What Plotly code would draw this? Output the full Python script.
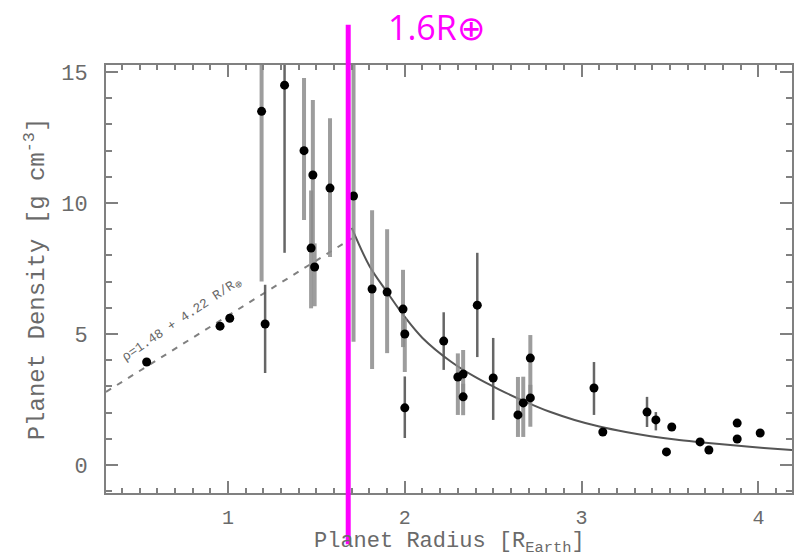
import plotly.graph_objects as go

# ---------------- data ----------------
# points with light, thick error bars
thick_x = [1.19, 1.43, 1.48, 1.47, 1.49, 1.577, 1.71, 1.815, 1.90, 1.99, 2.00, 2.30, 2.33, 2.33, 2.64, 2.67, 2.71, 2.71]
thick_y = [13.5, 12.0, 11.07, 8.28, 7.56, 10.57, 10.27, 6.72, 6.60, 5.95, 5.00, 3.36, 3.47, 2.60, 1.91, 2.37, 4.08, 2.56]
thick_ep = [3.0, 2.77, 2.86, 2.2, 0.9, 2.67, 6.0, 3.0, 2.4, 1.5, 0.6, 0.9, 0.92, 0.5, 1.45, 1.0, 0.88, 0.5]
thick_em = [6.5, 2.65, 2.9, 2.3, 1.5, 2.63, 5.57, 3.06, 2.33, 1.45, 1.45, 1.45, 1.0, 0.7, 0.84, 1.3, 1.5, 1.1]

# points with darker, thinner error bars
thin_x = [1.21, 1.32, 2.00, 2.22, 2.41, 2.50, 3.07, 3.37, 3.42]
thin_y = [5.38, 14.5, 2.18, 4.73, 6.10, 3.32, 2.94, 2.02, 1.72]
thin_ep = [1.5, 2.0, 1.2, 1.1, 2.0, 1.53, 0.99, 0.58, 0.3]
thin_em = [1.87, 6.4, 1.15, 1.1, 1.98, 1.6, 1.03, 0.57, 0.4]

# points without error bars
plain_x = [0.54, 0.955, 1.01, 3.12, 3.48, 3.51, 3.67, 3.72, 3.88, 3.88, 4.01]
plain_y = [3.93, 5.30, 5.60, 1.26, 0.50, 1.45, 0.88, 0.57, 1.60, 0.99, 1.22]

# linear relation (dashed) end points
lin_x = [0.31, 1.70]
lin_y = [2.79, 8.65]

# decreasing fit curve
fit_x = [1.70, 1.80, 1.90, 2.00, 2.10, 2.26, 2.40, 2.54, 2.68, 2.82, 2.96, 3.10, 3.25, 3.39, 3.53, 3.67, 3.81, 3.95, 4.07, 4.19]
fit_y = [9.05, 7.60, 6.60, 5.65, 4.85, 3.95, 3.35, 2.86, 2.42, 2.03, 1.72, 1.47, 1.26, 1.10, 0.97, 0.87, 0.78, 0.70, 0.63, 0.57]

x_range = [0.31, 4.19]
y_range = [-1.07, 15.27]
x_ticks = [1, 2, 3, 4]
y_ticks = [0, 5, 10, 15]
r_cut = 1.68  # position of the magenta marker line

x_title = "Planet Radius [R<sub>Earth</sub>]"
y_title = "Planet Density [g cm<sup>-3</sup>]"
fit_label = "ρ=1.48 + 4.22 R/R<sub>⊕</sub>"
cut_label = "1.6R⊕"

# ---------------- figure ----------------
GRAY = "#6a6a6a"
FONT = "Liberation Mono"

fig = go.Figure()

fig.add_trace(go.Scatter(x=lin_x, y=lin_y, mode="lines",
                         line=dict(color="#808080", width=2, dash="6px,7px"),
                         hoverinfo="skip"))
fig.add_trace(go.Scatter(x=fit_x, y=fit_y, mode="lines", line_shape="spline",
                         line=dict(color="#555555", width=2), hoverinfo="skip"))

fig.add_trace(go.Scatter(x=thick_x, y=thick_y, mode="markers",
                         marker=dict(color="black", size=9),
                         error_y=dict(type="data", symmetric=False, array=thick_ep,
                                      arrayminus=thick_em, color="rgba(140,140,140,0.85)",
                                      thickness=4, width=0)))
fig.add_trace(go.Scatter(x=thin_x, y=thin_y, mode="markers",
                         marker=dict(color="black", size=9),
                         error_y=dict(type="data", symmetric=False, array=thin_ep,
                                      arrayminus=thin_em, color="rgba(85,85,85,0.9)",
                                      thickness=2.5, width=0)))
fig.add_trace(go.Scatter(x=plain_x, y=plain_y, mode="markers",
                         marker=dict(color="black", size=9)))

axis_common = dict(
    showline=True, linecolor="#808080", linewidth=2, mirror="allticks",
    ticks="inside", ticklen=12, tickwidth=2, tickcolor="#808080",
    showgrid=False, zeroline=False, automargin=False,
)

fig.update_xaxes(range=x_range, tickvals=x_ticks, ticklabelstandoff=5,
                 tickfont=dict(family=FONT, size=20, color=GRAY),
                 minor=dict(dtick=0.1, tick0=0, ticks="inside", ticklen=5,
                            tickwidth=1.5, tickcolor="#808080", showgrid=False),
                 **axis_common)
fig.update_yaxes(range=y_range, tickvals=y_ticks, ticklabelstandoff=12,
                 tickfont=dict(family=FONT, size=22, color=GRAY),
                 minor=dict(dtick=1, tick0=0, ticks="inside", ticklen=6,
                            tickwidth=1.5, tickcolor="#808080", showgrid=False),
                 title=dict(text=y_title,
                            font=dict(family=FONT, size=24, color=GRAY), standoff=10),
                 **axis_common)

# x-axis title placed as a paper annotation below the tick labels
fig.add_annotation(x=0.5, y=-0.155, xref="paper", yref="paper", text=x_title,
                   xanchor="center", yanchor="bottom", showarrow=False,
                   font=dict(family=FONT, size=22, color=GRAY))

# label along the dashed relation
fig.add_annotation(x=0.745, y=5.55, xref="x", yref="y", text=fit_label,
                   showarrow=False, textangle=-34,
                   font=dict(family=FONT, size=13, color="#666666"))

# magenta marker line and its label
xp = (r_cut - x_range[0]) / (x_range[1] - x_range[0])
fig.add_shape(type="line", xref="paper", yref="paper", x0=xp, x1=xp, y0=-0.12, y1=1.094,
              line=dict(color="#ff00ff", width=5), layer="above")
fig.add_annotation(x=0.482, y=1.088, xref="paper", yref="paper", text=cut_label,
                   xanchor="center", yanchor="middle",
                   showarrow=False, font=dict(family="Open Sans", size=34, color="#ff00ff"))

fig.update_layout(
    width=799, height=559,
    margin=dict(l=106, r=7, t=65, b=66),
    paper_bgcolor="white", plot_bgcolor="white",
    showlegend=False,
)

fig.write_html("out.html")
